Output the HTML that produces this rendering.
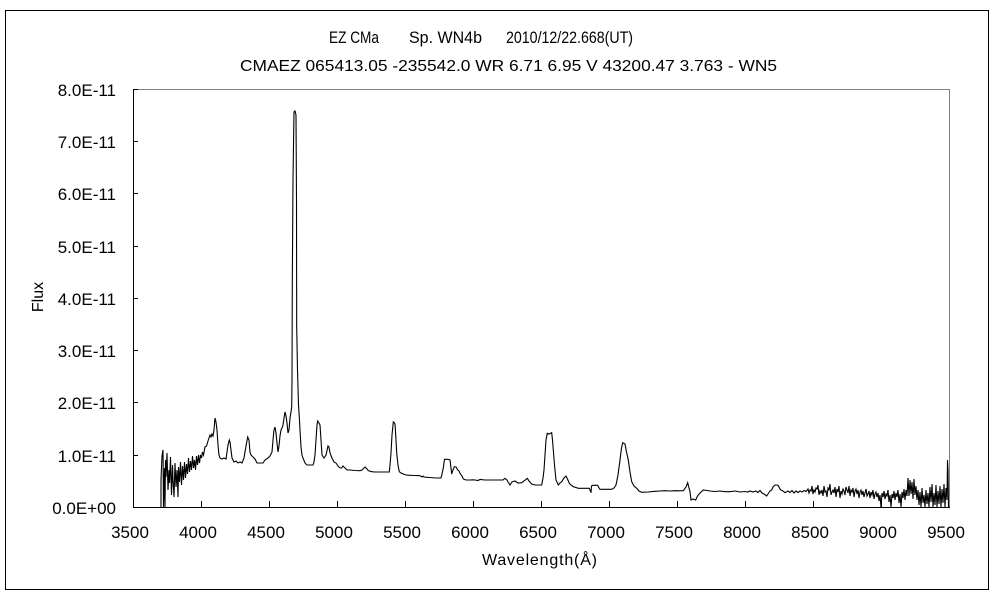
<!DOCTYPE html>
<html><head><meta charset="utf-8"><style>
html,body{margin:0;padding:0;background:#fff;}
svg{display:block;}
text{font-family:"Liberation Sans","Noto Sans CJK JP",sans-serif;fill:#000;}
</style></head><body>
<svg width="1000" height="600" viewBox="0 0 1000 600" xmlns="http://www.w3.org/2000/svg">
<rect x="0" y="0" width="1000" height="600" fill="#fff"/>
<rect x="5.5" y="10.5" width="983" height="579" fill="none" stroke="#000" stroke-width="1"/>
<!-- titles -->
<text x="329" y="43" font-size="17" textLength="50" lengthAdjust="spacingAndGlyphs">EZ CMa</text>
<text x="409" y="43" font-size="17" textLength="73" lengthAdjust="spacingAndGlyphs">Sp. WN4b</text>
<text x="506" y="43" font-size="17" textLength="127" lengthAdjust="spacingAndGlyphs">2010/12/22.668(UT)</text>
<text x="240" y="71" font-size="16" textLength="537" lengthAdjust="spacingAndGlyphs">CMAEZ 065413.05 -235542.0 WR 6.71 6.95 V 43200.47 3.763 - WN5</text>
<!-- plot frame -->
<line x1="133" y1="89.5" x2="950" y2="89.5" stroke="#808080" stroke-width="1"/>
<line x1="949.5" y1="89" x2="949.5" y2="508" stroke="#808080" stroke-width="1"/>
<line x1="133.5" y1="89" x2="133.5" y2="508" stroke="#000" stroke-width="1"/>
<line x1="133" y1="507.5" x2="950" y2="507.5" stroke="#000" stroke-width="1"/>
<!-- y ticks -->
<g stroke="#000" stroke-width="1">
<line x1="133" y1="89.5" x2="138" y2="89.5"/>
<line x1="133" y1="141.5" x2="138" y2="141.5"/>
<line x1="133" y1="193.5" x2="138" y2="193.5"/>
<line x1="133" y1="246.5" x2="138" y2="246.5"/>
<line x1="133" y1="298.5" x2="138" y2="298.5"/>
<line x1="133" y1="350.5" x2="138" y2="350.5"/>
<line x1="133" y1="402.5" x2="138" y2="402.5"/>
<line x1="133" y1="455.5" x2="138" y2="455.5"/>
</g>
<!-- x ticks -->
<g stroke="#000" stroke-width="1">
<line x1="201.5" y1="507" x2="201.5" y2="501"/>
<line x1="269.5" y1="507" x2="269.5" y2="501"/>
<line x1="337.5" y1="507" x2="337.5" y2="501"/>
<line x1="405.5" y1="507" x2="405.5" y2="501"/>
<line x1="473.5" y1="507" x2="473.5" y2="501"/>
<line x1="541.5" y1="507" x2="541.5" y2="501"/>
<line x1="609.5" y1="507" x2="609.5" y2="501"/>
<line x1="677.5" y1="507" x2="677.5" y2="501"/>
<line x1="745.5" y1="507" x2="745.5" y2="501"/>
<line x1="813.5" y1="507" x2="813.5" y2="501"/>
<line x1="881.5" y1="507" x2="881.5" y2="501"/>
</g>
<!-- y labels -->
<g font-size="17" text-anchor="end">
<text x="116" y="96">8.0E-11</text>
<text x="116" y="148">7.0E-11</text>
<text x="116" y="200">6.0E-11</text>
<text x="116" y="253">5.0E-11</text>
<text x="116" y="305">4.0E-11</text>
<text x="116" y="357">3.0E-11</text>
<text x="116" y="409">2.0E-11</text>
<text x="116" y="462">1.0E-11</text>
<text x="116" y="514">0.0E+00</text>
</g>
<!-- x labels -->
<g font-size="17" text-anchor="middle">
<text x="130" y="538">3500</text>
<text x="198" y="538">4000</text>
<text x="266" y="538">4500</text>
<text x="334" y="538">5000</text>
<text x="402" y="538">5500</text>
<text x="470" y="538">6000</text>
<text x="538" y="538">6500</text>
<text x="606" y="538">7000</text>
<text x="674" y="538">7500</text>
<text x="742" y="538">8000</text>
<text x="810" y="538">8500</text>
<text x="878" y="538">9000</text>
<text x="946" y="538">9500</text>
</g>
<text x="482" y="565" font-size="16" textLength="115">Wavelength(Å)</text>
<text transform="translate(43,297) rotate(-90)" font-size="16" text-anchor="middle">Flux</text>
<!-- spectrum -->
<polyline fill="none" stroke="#000" stroke-width="1.1" stroke-linejoin="miter" points="
161,507 161,480 162,456 163,450 163.5,507 164.5,468 165,507 165.5,460 166,477 167,453 168,490 169,470 169.5,483 170.5,457 171.5,495 172.5,465 173,480 174,497 175,463 176,487 177,470 178,497 178.5,467 179.5,482 180.5,462 181.5,485 182.5,466 183.5,480 184.5,462 185.5,478 186.5,464 187.5,474 188.5,458 189.5,472 190.5,461 191.5,470 192.5,456 193.5,468 194.5,460 195.5,470 196.5,456 197.5,465 198.5,455 199.5,463 200.5,455 201.5,458 202.5,452 203.5,455 205,447 206.5,446 208.3,440 210,435 211,437 212,434 213,436 214,430 215,418 216,422 217,430 218,445 219,455 220,458 222,459 224,458 226,459 227,452 228,445 229.3,440 230,442 231,450 232,458 234,462 236,461 238,463 240,462 242,463 244,458 246,446 247.7,437 249,440 250,452 251,455 253,457 255,459 257,463 259,463 261,463 263,463 265,460 268,458 270,456 272,452 273,440 274,430 275,427 276,433 276.7,440 278,452 279,446 280,436 281,430 282,428 283,425 284,418 285,412 286,416 287,423 288,433 289,430 290,418 291,412 291.7,407 292,380 292.3,283 293,180 294,112 295,111 296,115 296.5,200 296.7,327 297.5,370 298.5,405 299.3,417 300,430 301,447 302,455 303,458 305,463 307,465 309,465 311,465 313,465 314,462 315,455 316,440 317,425 317.7,421 319,423 320,425 321,440 322,455 324,458 326,455 328,446 329,447 330,453 332,458 334,462 336,463 338,466 340,468
341.7,468 343,466 345,468 347,470 350,470 355,470.5 360,470.7 362,470 364,468 365,467 367,469 368.3,470.7 371.7,471.7 375,472 380,472 385,472 389.3,472 390,465 391,453 392,435 393.3,422 394.5,423 395,424 396,440 396.7,453 398,465 399.3,471.7 401,473 403.3,474 406,475 410,475.3 415,475.5 420,475.7 422,477 423,476 424,477 426.7,477.3 430,477.5 436,478 441,478 442,474 443.3,468 444.5,459.3 448,459.3 450,460 451,468 451.7,474 453,470 454.3,466.7 456,467 457.7,470 459,471 460,473.3 462,476 463.3,479 466,480 470,480 473,479.8 475,480 478,480.5 480,479.5 485,480 490,480 495,480 500,480 503,480 505,478.3 507,480 508,482 510,485 512,482 515,481 518,483 521.7,482.7 524,481 527.3,478.3 529,481 531.7,484 535,485
537,485 541.7,485 543,478 544,470 545,455 546,440 547.3,433.3 549,434 551.7,432.7 552.5,440 553.3,450 554.5,465 556,480 558.3,485 560,483 561.7,481.7 564,478 566,476 567.5,479 569.3,483.3 571,485 573.3,486.7 576,487.5 578.3,488.3 583,488.3 589.3,488.3 590,490 591,492.7 591.5,486 592.7,485.3 597.7,485.3 598.5,487 600,489.3 605,489.3 611.7,489.3 614,488 616,485 618,475 620,460 621.5,448 622.7,442.7 625,444 626.5,452 628.3,460 630,472 631.7,481.7 634,486 636.7,488.3 639,491 641.7,492.3 648,492 655,491.3 660,491 665,490.7 670,491 675,490.7 680,490.8 683.3,490.7 686,487 687.7,482.7 688.5,486 690,491.7 691,500 693,499 695.7,500 697,497 698.3,495 700,493 703.3,490 707,490.5 710,491 715,491.5 720,491 725,491.7 730,491.7
735,491 740,492 745,491.5 748,492 750,491 753,492 756,491 758,492.5 760,490.5 762,493 764,494 766.7,496 768,494 770,491 771.7,490 773,487 775,485 777,485 778.3,485.7 780,489 781,490 783,491 785,492.7 788,491 790,492.5 792,490.5 794,493 796,491 798,492.5 800,491 802,492 804,490.5 806,491.5
808,489 809,493 810,490 811,491 812,486 813,494 814,490 815,492 816,488 817,489 818,485 819,495 820,491 821,493 822,490 823,496 824,486 825,492 826,491 827,497 828,488 829,490 830,484 831,495 832,492 833,490 834,493 835,487 836,497 837,489 838,492 839,486 840,498 841,491 842,494 843,489 844,491 845,495 846,487 847,490 848,493 849,486 850,496 851,490 852,492 853,488 854,497 855,491 856,489 857,494 858,490 859,498 860,492 861,490 862,495 863,491 864,497 865,493 866,489 867,496 868,494 869,491 870,498 871,492 872,495 873,490 874,499 875,494 876,492 877,497 878,493 879,501 880,495 881,507 882,493 883,497 884,491 885,499 886,494 887,496 888,490 889,502 890,495 891,507 892,494 893,498 894,491 895,500 896,493 897,497 898,490 899,503 900,494 901,507 902,492 903,498 904,489 905,500 906,490 907,496
908,478 909,496 910,480 911,494 912,482 913,499 914,479 915,495 916,486 917,500 918,490 919,505 920,492 921,507 922,488 923,503 924,495 925,507 926,490 927,504 928,493 929,507 930,487 931,502 932,484 933,507 934,493 935,505 936,485 937,507 938,491 939,504 940,486 941,507 942,489 943,503 944,484 945,507 946,488 947,500 947.5,460 948,470 948.5,507"/>
</svg>
</body></html>
